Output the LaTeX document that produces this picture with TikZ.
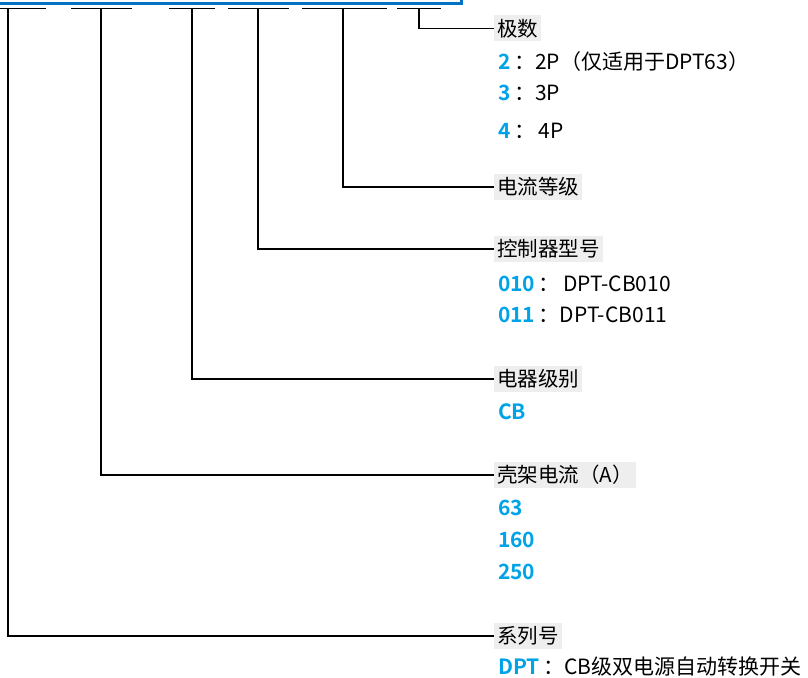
\documentclass[tikz,border=0pt]{standalone}
\usepackage{fontspec}
\setmainfont{Noto Sans CJK SC}[BoldFont={Noto Sans CJK SC Bold}]
\usetikzlibrary{positioning}
\definecolor{boxblue}{RGB}{0,114,198}
\definecolor{valblue}{RGB}{0,162,232}
\definecolor{labelgray}{RGB}{238,238,238}
\tikzset{
  field/.style={fill=labelgray,anchor=west,inner xsep=3pt,inner ysep=2pt,minimum height=26pt,font=\fontsize{20.5}{24}\selectfont},
  value/.style={anchor=west,inner sep=0pt,font=\fontsize{21}{24}\selectfont},
  leader/.style={line width=1.2pt,black},
}
\newcommand{\key}[1]{\textcolor{valblue}{\bfseries #1}}
\begin{document}
\begin{tikzpicture}[x=1pt,y=-1pt]
  \useasboundingbox (0,0) rectangle (808,677);
  % code box, cut off at the top
  \draw[boxblue,line width=3pt] (-5,-40) rectangle (461,3.5);
  % placeholder segments
  \foreach \a/\b in {-2/46,71/132,169/215,228/289,302/387,397/441}{\draw[leader] (\a,8.5)--(\b,8.5);}
  \coordinate (s1) at (8,8.5);
  \coordinate (s2) at (101,8.5);
  \coordinate (s3) at (192,8.5);
  \coordinate (s4) at (258,8.5);
  \coordinate (s5) at (343,8.5);
  \coordinate (s6) at (419,8.5);
  % fields and their values
  \node[field] (poles) at (494,28.5) {极数};
  \node[value] (p2) at (498,62) {\key{2}\,：2P（仅适用于DPT63）};
  \node[value] (p3) at (498,93) {\key{3}\,：3P};
  \node[value] (p4) at (498,131) {\key{4}\,：\,4P};
  \node[field] (current) at (494,187) {电流等级};
  \node[field] (ctrl) at (494,249) {控制器型号};
  \node[value] (c10) at (498,284) {\key{010}\,：\,DPT-CB010};
  \node[value] (c11) at (498,315) {\key{011}\,：DPT-CB011};
  \node[field] (class) at (494,379) {电器级别};
  \node[value] (cb) at (498,412) {\key{CB}};
  \node[field] (frame) at (494,475) {壳架电流（A）};
  \node[value] (f63) at (498,508) {\key{63}};
  \node[value] (f160) at (498,540) {\key{160}};
  \node[value] (f250) at (498,572) {\key{250}};
  \node[field] (series) at (494,636) {系列号};
  \node[value] (dpt) at (498,667) {\key{DPT}\,：CB级双电源自动转换开关};
  % leaders
  \foreach \s/\f in {s6/poles,s5/current,s4/ctrl,s3/class,s2/frame,s1/series}{\draw[leader] (\s) |- (\f.west);}
\end{tikzpicture}
\end{document}
